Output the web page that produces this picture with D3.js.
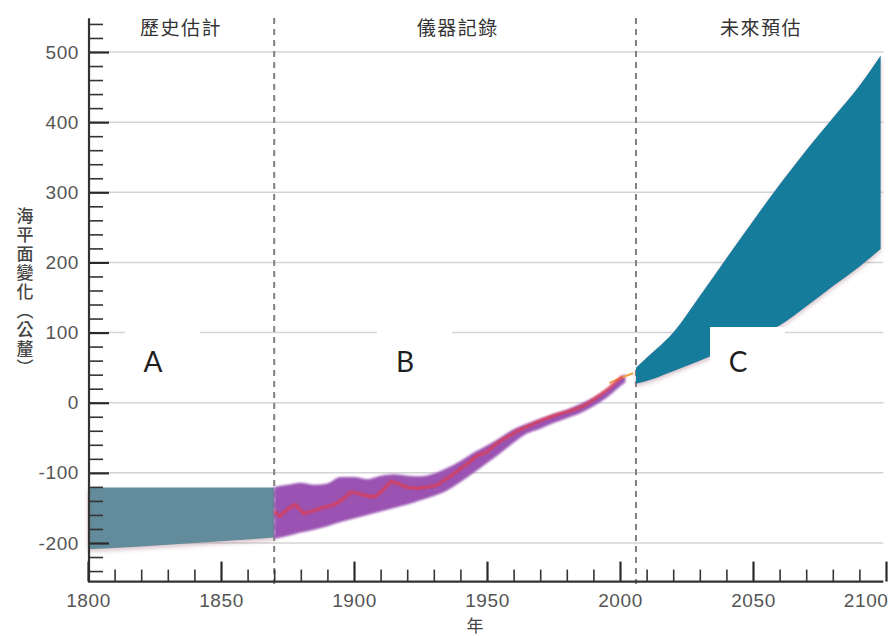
<!DOCTYPE html>
<html>
<head>
<meta charset="utf-8">
<script src="https://cdn.jsdelivr.net/npm/d3@7"></script>
<style>
  html, body { margin: 0; padding: 0; background: #fff; }
  svg { display: block; }
</style>
</head>
<body>
<svg id="chart" width="889" height="636"></svg>
<script>
// Era headings
const eraLabels = ["歷史估計", "儀器記錄", "未來預估"];
const eraCenters = [1835, 1939, 2053];
const eraBounds = [1870, 2006];

// Historical estimate (1800–1870)
const histYears = [1800, 1820, 1840, 1860, 1870];
const histUpper = [-121, -121, -121, -121, -121];
const histLower = [-209, -205, -200, -195, -192];

// Tide-gauge record: uncertainty band
const bandYears = [1870, 1875, 1880, 1885, 1890, 1895, 1900, 1905, 1910, 1915, 1920, 1925, 1930, 1935, 1940, 1945, 1950, 1955, 1960, 1965, 1970, 1975, 1980, 1985, 1990, 1995, 2000, 2002];
const bandUpper = [-120, -117, -114, -117, -115, -106, -106, -109, -104, -102, -104, -105, -101, -93, -83, -71, -61, -50, -38, -30, -23, -16, -10, -2, 7, 19, 35, 41];
const bandLower = [-194, -190, -185, -181, -176, -170, -165, -160, -155, -150, -145, -139, -133, -125, -113, -100, -86, -72, -57, -44, -37, -29, -22, -15, -5, 7, 23, 29];

// Tide-gauge record: central estimate
const gaugeYears = [1870, 1872, 1875, 1878, 1881, 1884, 1888, 1892, 1895, 1899, 1902, 1905, 1908, 1911, 1914, 1917, 1920, 1924, 1928, 1931, 1934, 1937, 1940, 1943, 1946, 1950, 1953, 1956, 1959, 1962, 1965, 1968, 1971, 1974, 1977, 1980, 1983, 1986, 1989, 1992, 1995, 1998, 2001];
const gaugeValues = [-155, -162, -152, -145, -158, -155, -150, -146, -140, -127, -130, -133, -134, -124, -112, -116, -121, -122, -120, -118, -110, -103, -94, -86, -76, -70, -60, -52, -46, -39, -34, -29, -24, -20, -16, -13, -9, -5, 2, 10, 18, 28, 38];

// Satellite altimetry
const satYears = [1996, 2000, 2005];
const satValues = [28, 35, 42];

// Projection to 2100
const projYears = [2006, 2010, 2020, 2030, 2040, 2050, 2060, 2070, 2080, 2090, 2098];
const projUpper = [50, 64, 100, 152, 206, 259, 311, 360, 406, 452, 495];
const projLower = [27, 31, 45, 60, 76, 92, 110, 137, 166, 194, 219];

// Axis ticks
const yMajor = [-200, -100, 0, 100, 200, 300, 400, 500];
const xMajor = [1800, 1850, 1900, 1950, 2000, 2050, 2100];

// Axis titles
const yTitle = "海平面變化（公釐）";
const xTitle = "年";

// Panel tags
const tags = ["A", "B", "C"];

const svg = d3.select("#chart");
const font = "'Liberation Sans', Arial, sans-serif";
const cjk = "'Noto Sans CJK TC', 'Noto Sans CJK SC', sans-serif";

const x = d3.scaleLinear().domain([1800, 2100]).range([88, 886]);
const y = d3.scaleLinear().domain([-200, 500]).range([543, 52]);
const yBottom = -255, yTop = 548;
const xRight = 2099;

const defs = svg.append("defs");
defs.append("filter").attr("id", "soft")
  .attr("x", "-5%").attr("y", "-20%").attr("width", "110%").attr("height", "140%")
  .append("feGaussianBlur").attr("stdDeviation", 1.3);
const shadow = defs.append("filter").attr("id", "shade")
  .attr("x", "-5%").attr("y", "-10%").attr("width", "110%").attr("height", "130%");
shadow.append("feDropShadow").attr("dx", 0).attr("dy", 2.5).attr("stdDeviation", 2.2)
  .attr("flood-color", "#a8788a").attr("flood-opacity", 0.45);

// Horizontal grid
svg.append("g").selectAll("line").data(yMajor).join("line")
  .attr("x1", x(1800)).attr("x2", x(xRight))
  .attr("y1", d => y(d)).attr("y2", d => y(d))
  .attr("stroke", "#d4d4d4").attr("stroke-width", 1.5);

// Era dividers
svg.append("g").selectAll("line").data(eraBounds).join("line")
  .attr("x1", d => x(d)).attr("x2", d => x(d))
  .attr("y1", 18).attr("y2", 584)
  .attr("stroke", "#808080").attr("stroke-width", 2)
  .attr("stroke-dasharray", "6,5");

const area = (xs, hi, lo) => d3.area()
  .x((d, i) => x(xs[i])).y0((d, i) => y(lo[i])).y1((d, i) => y(hi[i]))
  .curve(d3.curveMonotoneX)(xs);

// Historical band
svg.append("path").attr("d", area(histYears, histUpper, histLower))
  .attr("fill", "#628c9c").attr("filter", "url(#shade)");

// Gauge uncertainty band
svg.append("path").attr("d", area(bandYears, bandUpper, bandLower))
  .attr("fill", "#9a52b2").attr("filter", "url(#soft)");

// Satellite line (under the gauge line)
svg.append("path")
  .datum(satYears)
  .attr("d", d3.line().x((d, i) => x(satYears[i])).y((d, i) => y(satValues[i])))
  .attr("fill", "none").attr("stroke", "#f2a444").attr("stroke-width", 2);

// Gauge central line
svg.append("path")
  .datum(gaugeYears)
  .attr("d", d3.line().x((d, i) => x(gaugeYears[i])).y((d, i) => y(gaugeValues[i])))
  .attr("fill", "none").attr("stroke", "#e43a48").attr("stroke-width", 2.4)
  .attr("stroke-linejoin", "round").attr("filter", "url(#soft)");

// Projection band
svg.append("path").attr("d", area(projYears, projUpper, projLower))
  .attr("fill", "#137b9c").attr("filter", "url(#shade)");

// Y axis
const yMinor = d3.range(-240, 541, 20).filter(v => !yMajor.includes(v));
const yAxisG = svg.append("g").attr("transform", `translate(${x(1800) + 1},0)`);
yAxisG.append("g").call(d3.axisLeft(y).tickValues(yMinor).tickSize(-14).tickFormat(""))
  .call(g => g.select(".domain").remove())
  .call(g => g.selectAll("line").attr("stroke", "#333").attr("stroke-width", 1.6));
yAxisG.append("g").call(d3.axisLeft(y).tickValues(yMajor).tickSize(-20).tickPadding(10).tickFormat(d => String(d)))
  .call(g => g.select(".domain").remove())
  .call(g => g.selectAll("line").attr("stroke", "#2a2a2a").attr("stroke-width", 2.2))
  .call(g => g.selectAll("text").attr("font-family", font).attr("font-size", 19)
    .attr("fill", "#555").attr("letter-spacing", "0.6px"));
yAxisG.append("line").attr("x1", 0).attr("x2", 0)
  .attr("y1", y(yTop)).attr("y2", y(yBottom))
  .attr("stroke", "#333").attr("stroke-width", 2.2);

// X axis
const xMinor = d3.range(1810, 2100, 10).filter(v => !xMajor.includes(v));
const xAxisG = svg.append("g").attr("transform", `translate(0,${y(yBottom)})`);
xAxisG.append("g").call(d3.axisBottom(x).tickValues(xMinor).tickSize(-12).tickFormat(""))
  .call(g => g.select(".domain").remove())
  .call(g => g.selectAll("line").attr("stroke", "#333").attr("stroke-width", 1.6));
xAxisG.append("g").call(d3.axisBottom(x).tickValues(xMajor).tickSize(-20).tickPadding(12).tickFormat(d => String(d)))
  .call(g => g.select(".domain").remove())
  .call(g => g.selectAll("line").attr("stroke", "#2a2a2a").attr("stroke-width", 2.2))
  .call(g => g.selectAll("text").attr("font-family", font).attr("font-size", 19)
    .attr("fill", "#555").attr("letter-spacing", "0.6px"))
  .call(g => g.selectAll(".tick").filter(d => d === 2100).select("text")
    .attr("text-anchor", "end").attr("dx", "2px"));
xAxisG.append("line").attr("x1", x(1800)).attr("x2", x(xRight))
  .attr("y1", 0).attr("y2", 0)
  .attr("stroke", "#333").attr("stroke-width", 2.2);

// Axis titles
svg.append("text").attr("x", 475).attr("y", 632)
  .attr("text-anchor", "middle").attr("font-family", cjk).attr("font-size", 17)
  .attr("fill", "#444").text(xTitle);

// Vertical y title set in vertical writing mode
svg.append("text")
  .attr("x", 25).attr("y", 207)
  .style("writing-mode", "vertical-rl")
  .attr("font-family", cjk).attr("font-size", 17).attr("font-weight", 500)
  .attr("letter-spacing", "2px")
  .attr("fill", "#444").text(yTitle);

// Era headings
svg.append("g").selectAll("text").data(eraLabels).join("text")
  .attr("x", (d, i) => x(eraCenters[i])).attr("y", 35)
  .attr("text-anchor", "middle").attr("font-family", cjk).attr("font-size", 19)
  .attr("letter-spacing", "1.5px").attr("fill", "#333").text(d => d);

// Panel tags on white boxes
const tagX = [125, 377, 710];
const tagG = svg.append("g").selectAll("g").data(tags).join("g")
  .attr("transform", (d, i) => `translate(${tagX[i]},327)`);
tagG.append("rect").attr("width", 75).attr("height", 71).attr("fill", "#fff");
tagG.append("text").attr("x", 28).attr("y", 45)
  .attr("text-anchor", "middle").attr("font-family", "Lato, 'Open Sans', sans-serif")
  .attr("font-size", 28).attr("fill", "#1e1e1e").text(d => d);
</script>
</body>
</html>
